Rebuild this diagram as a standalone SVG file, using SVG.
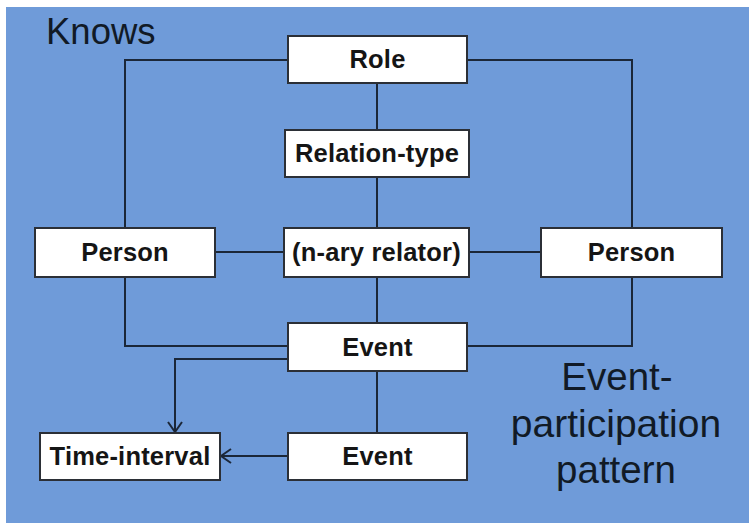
<svg xmlns="http://www.w3.org/2000/svg" width="749" height="523" viewBox="0 0 749 523">
  <defs>
    <style>
      .node rect { fill: #ffffff; stroke: #2b2f36; stroke-width: 2; }
      .node text { font-family: "Liberation Sans", Arial, sans-serif; font-weight: bold; font-size: 25.5px; letter-spacing: 0.2px; fill: #151515; text-anchor: middle; }
      .wire { fill: none; stroke: #1b2738; stroke-width: 2; }
      .title { font-family: "Liberation Sans", Arial, sans-serif; fill: #111a26; }
    </style>
    <marker id="open-arrow" viewBox="0 0 12 16" refX="11" refY="8" markerWidth="12" markerHeight="16" markerUnits="userSpaceOnUse" orient="auto">
      <path d="M1,1 L11,8 L1,15" fill="none" stroke="#1b2738" stroke-width="2"/>
    </marker>
  </defs>

  <rect x="0" y="0" width="749" height="523" fill="#ffffff"/>
  <rect x="6" y="7" width="743" height="516" fill="#6f9bd9"/>

  <text class="title" x="46" y="44" font-size="36.5">Knows</text>
  <text class="title" x="617" y="390" font-size="38.5" text-anchor="middle">Event-</text>
  <text class="title" x="616" y="437" font-size="39" text-anchor="middle">participation</text>
  <text class="title" x="616" y="483" font-size="38.5" text-anchor="middle">pattern</text>

  <g id="connectors">
    <polyline class="wire" points="288,60 125,60 125,228"/>
    <polyline class="wire" points="467,60 632,60 632,228"/>
    <line class="wire" x1="377" y1="83" x2="377" y2="130"/>
    <line class="wire" x1="377" y1="177" x2="377" y2="228"/>
    <line class="wire" x1="377" y1="277" x2="377" y2="323"/>
    <line class="wire" x1="215" y1="252" x2="284" y2="252"/>
    <line class="wire" x1="469" y1="252" x2="541" y2="252"/>
    <polyline class="wire" points="125,277 125,346 288,346"/>
    <polyline class="wire" points="632,277 632,346 467,346"/>
    <line class="wire" x1="377" y1="371" x2="377" y2="433"/>
    <polyline class="wire" points="288,359 175,359 175,432" marker-end="url(#open-arrow)"/>
    <line class="wire" x1="288" y1="456" x2="221" y2="456" marker-end="url(#open-arrow)"/>
  </g>

  <g id="role" class="node">
    <rect x="288" y="36" width="179" height="47"/>
    <text x="377.5" y="68">Role</text>
  </g>
  <g id="relation-type" class="node">
    <rect x="285" y="130" width="184" height="47"/>
    <text x="377" y="162">Relation-type</text>
  </g>
  <g id="person-left" class="node">
    <rect x="35" y="228" width="180" height="49"/>
    <text x="125" y="261">Person</text>
  </g>
  <g id="nary-relator" class="node">
    <rect x="284" y="228" width="185" height="49"/>
    <text x="376.5" y="261">(n-ary relator)</text>
  </g>
  <g id="person-right" class="node">
    <rect x="541" y="228" width="181" height="49"/>
    <text x="631.5" y="261">Person</text>
  </g>
  <g id="event-main" class="node">
    <rect x="288" y="323" width="179" height="48"/>
    <text x="377.5" y="355.5">Event</text>
  </g>
  <g id="event-sub" class="node">
    <rect x="288" y="433" width="179" height="47"/>
    <text x="377.5" y="465">Event</text>
  </g>
  <g id="time-interval" class="node">
    <rect x="40" y="433" width="180" height="47"/>
    <text x="130" y="465">Time-interval</text>
  </g>
</svg>
